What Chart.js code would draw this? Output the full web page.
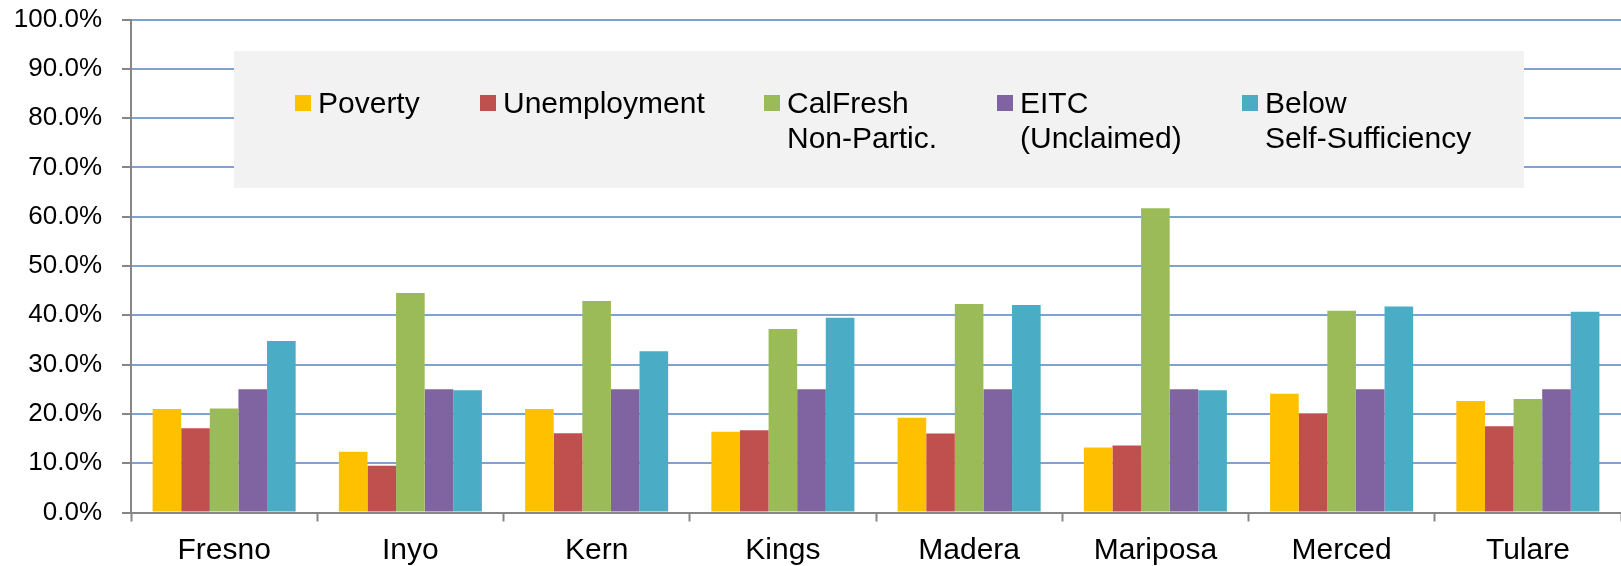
<!DOCTYPE html>
<html>
<head>
<meta charset="utf-8">
<script src="https://cdn.jsdelivr.net/npm/chart.js@4/dist/chart.umd.min.js"></script>
<style>
  body { margin: 0; background: #fff; }
  #wrap { width: 1621px; height: 566px; position: relative; }
</style>
</head>
<body>
<div id="wrap"><canvas id="myChart"></canvas></div>
<script>
  const counties = ['Fresno', 'Inyo', 'Kern', 'Kings', 'Madera', 'Mariposa', 'Merced', 'Tulare'];

  const poverty      = [21.0, 12.3, 21.0, 16.4, 19.2, 13.2, 24.1, 22.6];
  const unemployment = [17.1,  9.5, 16.1, 16.7, 16.0, 13.6, 20.0, 17.5];
  const calfresh     = [21.1, 44.5, 42.9, 37.2, 42.3, 61.7, 40.9, 23.0];
  const eitc         = [25.0, 25.0, 25.0, 25.0, 25.0, 25.0, 25.0, 25.0];
  const belowSS      = [34.8, 24.8, 32.7, 39.5, 42.1, 24.8, 41.8, 40.7];

  const yTicks = [0, 10, 20, 30, 40, 50, 60, 70, 80, 90, 100];

  Chart.defaults.font.family = "'Liberation Sans', Arial, sans-serif";
  Chart.defaults.color = '#000';

  // legend drawn as an Excel style box sitting over the gridlines
  const boxLegend = {
    id: 'boxLegend',
    beforeDatasetsDraw(chart, args, opts) {
      const c = chart.ctx;
      c.save();
      c.fillStyle = '#f2f2f2';
      c.fillRect(234, 51, 1290, 137);
      c.font = "30px 'Liberation Sans', Arial, sans-serif";
      c.textBaseline = 'alphabetic';
      c.textAlign = 'left';
      chart.data.datasets.forEach(function (ds, i) {
        var x = opts.xs[i];
        c.fillStyle = ds.backgroundColor;
        c.fillRect(x, 95, 16, 16);
        c.fillStyle = '#000';
        var lines = [].concat(ds.label);
        lines.forEach(function (t, j) {
          c.fillText(t, x + 23, 113 + j * 35);
        });
      });
      c.restore();
    }
  };

  const ctx = document.getElementById('myChart');

  new Chart(ctx, {
    type: 'bar',
    data: {
      labels: counties,
      datasets: [
        { label: 'Poverty', data: poverty, backgroundColor: '#FFC000' },
        { label: 'Unemployment', data: unemployment, backgroundColor: '#C0504D' },
        { label: ['CalFresh', 'Non-Partic.'], data: calfresh, backgroundColor: '#9BBB59' },
        { label: ['EITC', '(Unclaimed)'], data: eitc, backgroundColor: '#8064A2' },
        { label: ['Below', 'Self-Sufficiency'], data: belowSS, backgroundColor: '#4BACC6' }
      ]
    },
    plugins: [boxLegend],
    options: {
      responsive: true,
      maintainAspectRatio: false,
      animation: false,
      datasets: {
        bar: {
          categoryPercentage: 0.768,
          barPercentage: 1.0,
          borderWidth: 0
        }
      },
      layout: {
        padding: { top: 19.5, left: 0, right: 0, bottom: 0 }
      },
      plugins: {
        legend: { display: false },
        tooltip: { enabled: false },
        boxLegend: { xs: [295, 480, 764, 997, 1242] }
      },
      scales: {
        y: {
          min: 0,
          max: 100,
          afterFit: function (s) {
            s.width = 131;
            s.paddingTop = 0;
            s.paddingBottom = 0;
          },
          afterBuildTicks: function (s) {
            s.ticks = yTicks.map(function (v) { return { value: v }; });
          },
          ticks: {
            padding: 20,
            font: { size: 26 },
            callback: function (v) { return v.toFixed(1) + '%'; }
          },
          grid: {
            color: '#7ea3d0',
            lineWidth: 2,
            tickLength: 9,
            tickColor: '#868686',
            tickWidth: 2
          },
          border: { color: '#868686', width: 2 }
        },
        x: {
          afterFit: function (s) { s.height = 53.5; },
          ticks: {
            padding: 11,
            font: { size: 30 }
          },
          grid: {
            offset: true,
            drawOnChartArea: false,
            tickLength: 9,
            tickColor: '#868686',
            tickWidth: 2
          },
          border: { color: '#868686', width: 2 }
        }
      }
    }
  });
</script>
</body>
</html>
